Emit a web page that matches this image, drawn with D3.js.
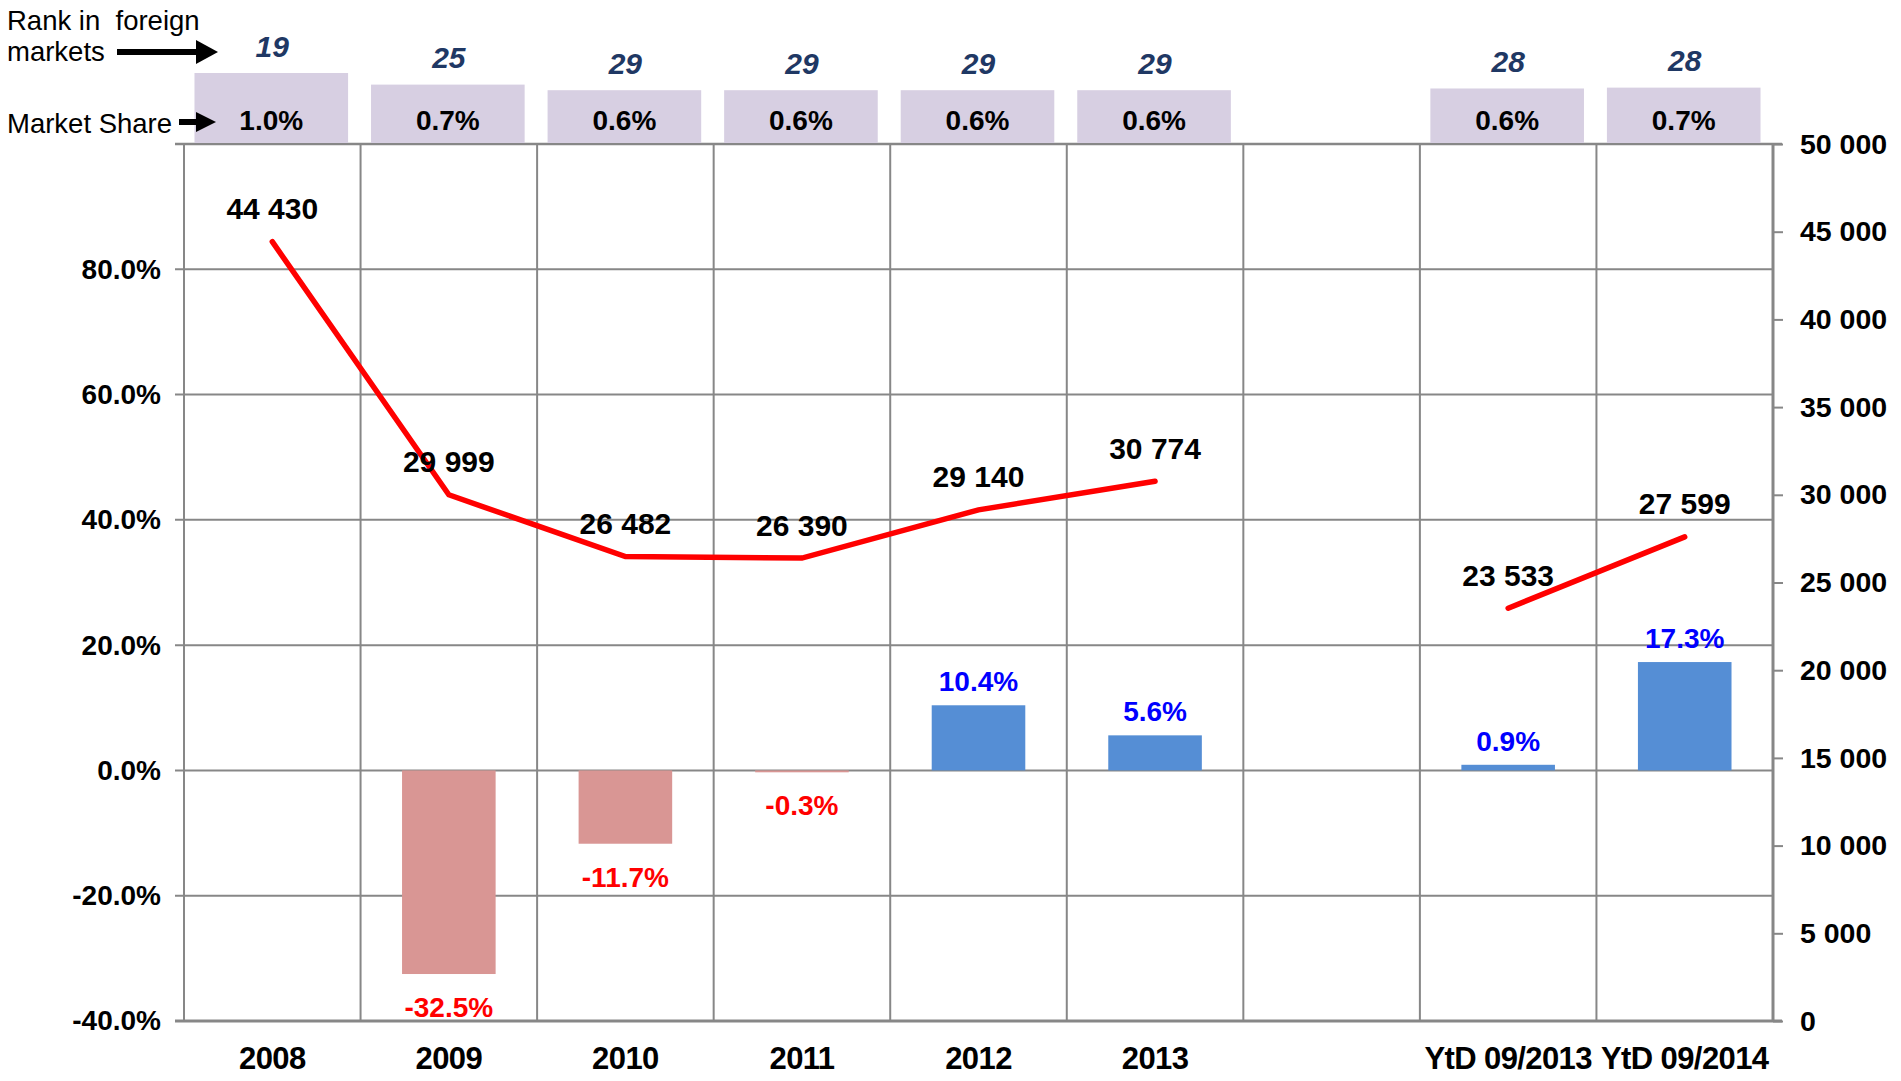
<!DOCTYPE html>
<html>
<head>
<meta charset="utf-8">
<script src="https://cdn.jsdelivr.net/npm/d3@7"></script>
<style>
  body { margin: 0; background: #fff; }
  svg text { font-family: "Liberation Sans", Arial, sans-serif; white-space: pre; }
</style>
</head>
<body>
<div id="chart-area"></div>
<script>
// categories and values
let categories = ["2008", "2009", "2010", "2011", "2012", "2013", "", "YtD 09/2013", "YtD 09/2014"];
let growthValues = [null, -32.5, -11.7, -0.3, 10.4, 5.6, null, 0.9, 17.3];      // % change (bars)
let volumeValues = [44430, 29999, 26482, 26390, 29140, 30774, null, 23533, 27599]; // units (line)
let rankValues = [19, 25, 29, 29, 29, 29, null, 28, 28];
let shareValues = [1.0, 0.73, 0.6, 0.6, 0.6, 0.6, null, 0.64, 0.66];           // market share %
let leftTicks = [-40, -20, 0, 20, 40, 60, 80];
let rightTicks = d3.range(0, 50001, 5000);

let data = categories.map((c, i) => ({
    cat: c,
    growth: growthValues[i],
    volume: volumeValues[i],
    rank: rankValues[i],
    share: shareValues[i]
}));

// set margins, width, height
let margin = {top: 144, right: 128, bottom: 60, left: 184};
let width = 1901 - margin.left - margin.right;
let height = 1081 - margin.top - margin.bottom;

let svg = d3.select("#chart-area").append("svg")
    .attr("width", 1901)
    .attr("height", 1081);

let g = svg.append("g")
    .attr("transform", "translate(" + margin.left + "," + margin.top + ")");

// scales
let x = d3.scaleBand().domain(d3.range(categories.length)).range([0, width]).padding(0);
let yLeft = d3.scaleLinear().domain([-40, 100]).range([height, 0]);
let yRight = d3.scaleLinear().domain([0, 50000]).range([height, 0]);
let shareScale = d3.scaleLinear().domain([0, 1]).range([28, 71]);

const gridColor = "#878787";
const fmtNum = d => d3.format(",")(d).replace(/,/g, " ");
// excel style percent with a plain hyphen
const fmtPct = d => d3.format(".1f")(d).replace("\u2212", "-") + "%";

// horizontal gridlines (left axis)
g.selectAll(".hgrid")
    .data(d3.range(-40, 101, 20))
    .enter().append("line")
    .attr("class", "hgrid")
    .attr("x1", -9).attr("x2", width)
    .attr("y1", d => yLeft(d)).attr("y2", d => yLeft(d))
    .style("stroke", gridColor).style("stroke-width", 2);

// vertical gridlines at category boundaries
g.selectAll(".vgrid")
    .data(d3.range(categories.length + 1))
    .enter().append("line")
    .attr("class", "vgrid")
    .attr("x1", d => d * x.step()).attr("x2", d => d * x.step())
    .attr("y1", 0).attr("y2", height)
    .style("stroke", gridColor).style("stroke-width", 2);

// bottom and top lines extend a little past the plot
g.append("line")
    .attr("x1", -9).attr("x2", width + 9)
    .attr("y1", height).attr("y2", height)
    .style("stroke", gridColor).style("stroke-width", 3);
g.append("line")
    .attr("x1", -9).attr("x2", width + 9)
    .attr("y1", 0).attr("y2", 0)
    .style("stroke", gridColor).style("stroke-width", 2.5);

// left axis
let leftAxis = g.append("g")
    .call(d3.axisLeft(yLeft).tickValues(leftTicks).tickSize(0).tickPadding(23)
        .tickFormat(fmtPct));
leftAxis.select(".domain").remove();
leftAxis.selectAll("text")
    .style("font-size", "28px").style("font-weight", "bold").style("fill", "#000");

// right axis
let rightAxis = g.append("g")
    .attr("transform", "translate(" + width + ",0)")
    .call(d3.axisRight(yRight).tickValues(rightTicks).tickSize(10).tickPadding(17)
        .tickFormat(fmtNum));
rightAxis.select(".domain").style("stroke", gridColor).style("stroke-width", 3)
    .attr("d", "M0,0V" + height);
rightAxis.selectAll(".tick line").style("stroke", gridColor).style("stroke-width", 2);
rightAxis.selectAll("text")
    .style("font-size", "28.5px").style("font-weight", "bold").style("fill", "#000");

// category labels
g.selectAll(".xlabel")
    .data(data)
    .enter().append("text")
    .attr("class", "xlabel")
    .attr("x", (d, i) => x(i) + x.bandwidth() / 2)
    .attr("y", height + 48)
    .attr("text-anchor", "middle")
    .style("font-size", "31px").style("font-weight", "bold").style("letter-spacing", "-0.6px")
    .text(d => d.cat);

// growth bars
let barW = x.bandwidth() * 0.53;
let barData = data.map((d, i) => Object.assign({i: i}, d)).filter(d => d.growth !== null);

g.selectAll(".bar")
    .data(barData)
    .enter().append("rect")
    .attr("class", "bar")
    .attr("x", d => x(d.i) + (x.bandwidth() - barW) / 2)
    .attr("width", barW)
    .attr("y", d => yLeft(Math.max(0, d.growth)))
    .attr("height", d => Math.max(1.5, Math.abs(yLeft(d.growth) - yLeft(0))))
    .style("fill", d => d.growth < 0 ? "#d99694" : "#558ed5");

g.selectAll(".barlabel")
    .data(barData)
    .enter().append("text")
    .attr("class", "barlabel")
    .attr("x", d => x(d.i) + x.bandwidth() / 2)
    .attr("y", d => d.growth < 0 ? yLeft(d.growth) + 33 : yLeft(d.growth) - 24)
    .attr("dy", "0.35em")
    .attr("text-anchor", "middle")
    .style("font-size", "28px").style("font-weight", "bold")
    .style("fill", d => d.growth < 0 ? "#ff0000" : "#0000ff")
    .text(d => fmtPct(d.growth));

// volume line (gap where there is no value)
let line = d3.line()
    .defined(d => d.volume !== null)
    .x((d, i) => x(i) + x.bandwidth() / 2)
    .y(d => yRight(d.volume));

g.append("path")
    .datum(data)
    .attr("d", line)
    .style("fill", "none")
    .style("stroke", "#ff0000")
    .style("stroke-width", 5.5)
    .style("stroke-linecap", "round");

g.selectAll(".linelabel")
    .data(data.map((d, i) => Object.assign({i: i}, d)).filter(d => d.volume !== null))
    .enter().append("text")
    .attr("class", "linelabel")
    .attr("x", d => x(d.i) + x.bandwidth() / 2)
    .attr("y", d => yRight(d.volume) - 33)
    .attr("dy", "0.35em")
    .attr("text-anchor", "middle")
    .style("font-size", "30px").style("font-weight", "bold").style("fill", "#000")
    .text(d => fmtNum(d.volume));

// market share boxes on top of the plot
let topData = data.map((d, i) => Object.assign({i: i}, d)).filter(d => d.share !== null);
let boxW = x.bandwidth() * 0.87;

g.selectAll(".sharebox")
    .data(topData)
    .enter().append("rect")
    .attr("class", "sharebox")
    .attr("x", d => x(d.i) + (x.bandwidth() - boxW) / 2 - 1)
    .attr("width", boxW)
    .attr("y", d => -shareScale(d.share))
    .attr("height", d => shareScale(d.share) - 1)
    .style("fill", "#d7cfe2");

g.selectAll(".sharelabel")
    .data(topData)
    .enter().append("text")
    .attr("class", "sharelabel")
    .attr("x", d => x(d.i) + x.bandwidth() / 2 - 1)
    .attr("y", -24)
    .attr("dy", "0.35em")
    .attr("text-anchor", "middle")
    .style("font-size", "28px").style("font-weight", "bold").style("fill", "#000")
    .text(d => d3.format(".1f")(d.share) + "%");

g.selectAll(".ranklabel")
    .data(topData)
    .enter().append("text")
    .attr("class", "ranklabel")
    .attr("x", d => x(d.i) + x.bandwidth() / 2)
    .attr("y", d => -shareScale(d.share) - 27)
    .attr("dy", "0.35em")
    .attr("text-anchor", "middle")
    .style("font-size", "30px").style("font-weight", "bold").style("font-style", "italic")
    .style("fill", "#1f3864")
    .text(d => d.rank);

// annotations on the left
let ann = svg.append("g");
ann.append("text").attr("x", 7).attr("y", 20).attr("dy", "0.35em")
    .style("font-size", "27.5px").text("Rank in  foreign");
ann.append("text").attr("x", 7).attr("y", 51).attr("dy", "0.35em")
    .style("font-size", "27.5px").text("markets");
ann.append("text").attr("x", 7).attr("y", 123).attr("dy", "0.35em")
    .style("font-size", "27.5px").text("Market Share");

function arrow(x1, x2, y, headLen, headH, thick) {
    ann.append("line")
        .attr("x1", x1).attr("x2", x2 - headLen + 1)
        .attr("y1", y).attr("y2", y)
        .style("stroke", "#000").style("stroke-width", thick);
    ann.append("path")
        .attr("d", "M" + (x2 - headLen) + "," + (y - headH / 2) + "L" + x2 + "," + y + "L" + (x2 - headLen) + "," + (y + headH / 2) + "Z")
        .style("fill", "#000");
}
arrow(117, 218, 52, 22, 24, 6);
arrow(179, 216, 122, 20, 20, 6);
</script>
</body>
</html>
